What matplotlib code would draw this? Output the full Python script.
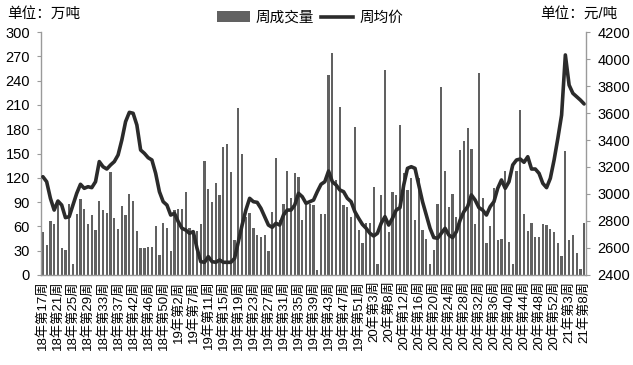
import numpy as np
import matplotlib
matplotlib.use('Agg')
import matplotlib.pyplot as plt
from matplotlib.patches import Patch
from matplotlib.lines import Line2D

plt.rcParams['font.family'] = ['Liberation Sans', 'Noto Sans CJK SC']

# weekly volume (万吨), one value per week
volume = [53, 37, 67, 63, 88, 33, 31, 88, 14, 75, 94, 81, 63, 74, 56, 91, 80, 76, 127, 70,
          57, 85, 74, 100, 91, 54, 33, 33, 34, 35, 60, 25, 64, 58, 30, 80, 81, 82, 103, 58,
          54, 54, 63, 141, 106, 90, 114, 99, 158, 162, 127, 43, 206, 149, 72, 77, 58, 49, 47, 49,
          30, 78, 144, 68, 88, 128, 95, 126, 121, 68, 86, 88, 87, 6, 75, 75, 247, 274, 117, 208,
          86, 84, 72, 183, 56, 39, 64, 64, 109, 13, 99, 253, 53, 103, 99, 185, 126, 105, 120, 68,
          120, 55, 45, 13, 31, 88, 232, 128, 84, 100, 72, 154, 165, 182, 156, 63, 249, 95, 39, 60,
          107, 43, 45, 128, 41, 14, 128, 204, 75, 54, 64, 47, 47, 63, 62, 57, 53, 39, 23, 153,
          43, 49, 27, 8, 64]

# weekly average price (元/吨)
price = [3128, 3091, 2968, 2881, 2948, 2918, 2825, 2832, 2918, 3005, 3072, 3042, 3054, 3047, 3091,
         3240, 3202, 3185, 3215, 3240, 3289, 3400, 3536, 3605, 3598, 3511, 3326, 3301, 3269, 3252,
         3153, 3017, 2943, 2918, 2844, 2857, 2795, 2746, 2733, 2709, 2721, 2598, 2499, 2494, 2536,
         2499, 2494, 2511, 2494, 2494, 2494, 2523, 2647, 2770, 2881, 2968, 2943, 2938, 2894, 2832,
         2770, 2753, 2783, 2770, 2844, 2881, 2881, 2918, 3005, 2980, 2931, 2943, 2955, 3017, 3072,
         3091, 3170, 3091, 3067, 3030, 3017, 2968, 2943, 2869, 2820, 2775, 2746, 2709, 2689, 2709,
         2783, 2832, 2770, 2820, 2881, 2899, 3067, 3190, 3202, 3190, 3067, 2943, 2844, 2746, 2677,
         2672, 2709, 2746, 2696, 2677, 2721, 2807, 2869, 2906, 2993, 2955, 2899, 2881, 2844, 2906,
         2943, 3042, 3104, 3042, 3091, 3215, 3252, 3259, 3235, 3276, 3185, 3185, 3153, 3079, 3047,
         3116, 3252, 3412, 3585, 4030, 3807, 3746, 3721, 3696, 3667]

# labels shown on every 4th week
tick_labels = ['18年第17周', '18年第21周', '18年第25周', '18年第29周', '18年第33周', '18年第37周',
               '18年第42周', '18年第46周', '18年第50周', '19年第2周', '19年第7周', '19年第11周',
               '19年第15周', '19年第19周', '19年第23周', '19年第27周', '19年第31周', '19年第35周',
               '19年第39周', '19年第43周', '19年第47周', '19年第51周', '20年第3周', '20年第8周',
               '20年第12周', '20年第16周', '20年第20周', '20年第24周', '20年第28周', '20年第32周',
               '20年第36周', '20年第40周', '20年第44周', '20年第48周', '20年第52周', '21年第3周',
               '21年第8周']

x = np.arange(len(volume))

fig = plt.figure(figsize=(6.33, 3.65), dpi=100)
ax = fig.add_axes([0.0648, 0.2466, 0.861, 0.6657])
ax2 = ax.twinx()

ax.bar(x, volume, width=0.6, color='#616161', edgecolor='none', zorder=2)
ax2.plot(x, price, color='#2b2b2b', lw=2.6, solid_joinstyle='round', solid_capstyle='round')

ax.set_xlim(-0.5, len(volume) - 0.5)
ax.set_ylim(0, 300)
ax.set_yticks(np.arange(0, 301, 30))
ax2.set_ylim(2400, 4200)
ax2.set_yticks(np.arange(2400, 4201, 200))

ax.set_xticks(x[::4])
ax.set_xticklabels(tick_labels, rotation=90, fontsize=9.5, va='top', ha='center')
ax.tick_params(axis='x', length=0, pad=4)

for a in (ax, ax2):
    for s in a.spines.values():
        s.set_visible(False)
ax.spines['left'].set_visible(True)
ax.spines['bottom'].set_visible(True)
ax2.spines['right'].set_visible(True)
for s in (ax.spines['left'], ax.spines['bottom'], ax2.spines['right']):
    s.set_color('#9a9a9a')
    s.set_linewidth(1)

ax.tick_params(axis='y', length=3, color='#9a9a9a', labelsize=10.5, pad=5)
ax2.tick_params(axis='y', length=3, color='#9a9a9a', labelsize=10.5, pad=5)

fig.text(0.011, 0.962, '单位：万吨', fontsize=10.5, va='center', ha='left')
fig.text(0.975, 0.962, '单位：元/吨', fontsize=10.5, va='center', ha='right')

handles = [Patch(facecolor='#616161', edgecolor='none'),
           Line2D([], [], color='#2b2b2b', lw=2.6)]
fig.legend(handles, ['周成交量', '周均价'], loc='center', bbox_to_anchor=(0.49, 0.951),
           ncol=2, frameon=False, fontsize=10.5, handlelength=2.2, handleheight=0.8,
           handletextpad=0.4, columnspacing=0.5)

fig.savefig('out.png', dpi=100)
